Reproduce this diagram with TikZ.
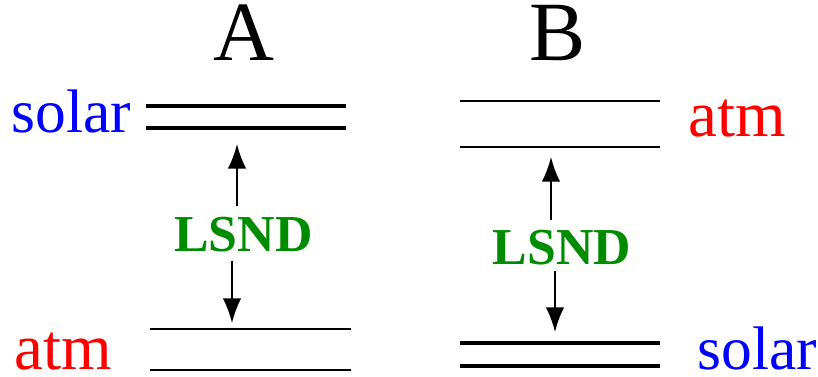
\documentclass[tikz,border=0pt]{standalone}
\usepackage{fontspec}
\setmainfont{Liberation Serif}
\usetikzlibrary{arrows.meta}

\definecolor{lsndgreen}{RGB}{0,140,0}

\tikzset{
  level/.style={line width=1.3pt},
  pairlevel/.style={line width=2.3pt},
  panel/.style={font=\fontsize{48}{50}\selectfont, anchor=base, inner sep=0pt},
  tag/.style={font=\fontsize{35}{36}\selectfont, anchor=base west, inner sep=0pt},
  lsnd/.style={font=\bfseries\fontsize{29.5}{31}\selectfont, text=lsndgreen, anchor=base, inner sep=0pt},
  gap/.style={-{Latex[length=14pt,width=10.5pt]}, line width=1.1pt}
}

\begin{document}
\begin{tikzpicture}[x=0.02cm, y=-0.02cm]
            \useasboundingbox (0,0) rectangle (818,377);

            % panel A: solar pair on top, atm pair below
                \node[panel] (titleA) at (244,61) {A};
                \draw[pairlevel] (146,106) -- (346,106);
                \draw[pairlevel] (146,128) -- (346,128);
                \node[tag, text=blue] (solarA) at (11,133) {solar};
                \draw[level] (150,329) -- (351,329);
                \draw[level] (150,370) -- (351,370);
                \node[tag, text=red, font=\fontsize{37}{38}\selectfont] (atmA) at (14,370) {atm};

                \node[lsnd] (lsndA) at (243.5,252) {LSND};
                \coordinate (upA0) at (237,206);
                \coordinate (upA1) at (237,144);
                \coordinate (downA0) at (232,261);
                \coordinate (downA1) at (232,323);
                \draw[gap] (upA0) -- (upA1);
                \draw[gap] (downA0) -- (downA1);

            % panel B: atm pair on top, solar pair below
                \node[panel] (titleB) at (558,61) {B};
                \draw[level] (460,101) -- (660,101);
                \draw[level] (460,147) -- (660,147);
                \node[tag, text=red, font=\fontsize{37}{38}\selectfont] (atmB) at (688,137) {atm};
                \draw[pairlevel] (460,343) -- (660,343);
                \draw[pairlevel] (460,366) -- (660,366);
                \node[tag, text=blue] (solarB) at (697,370) {solar};

                \node[lsnd] (lsndB) at (562,265) {LSND};
                \coordinate (upB0) at (551,220);
                \coordinate (upB1) at (551,157);
                \coordinate (downB0) at (555,271);
                \coordinate (downB1) at (555,332);
                \draw[gap] (upB0) -- (upB1);
                \draw[gap] (downB0) -- (downB1);
\end{tikzpicture}
\end{document}
